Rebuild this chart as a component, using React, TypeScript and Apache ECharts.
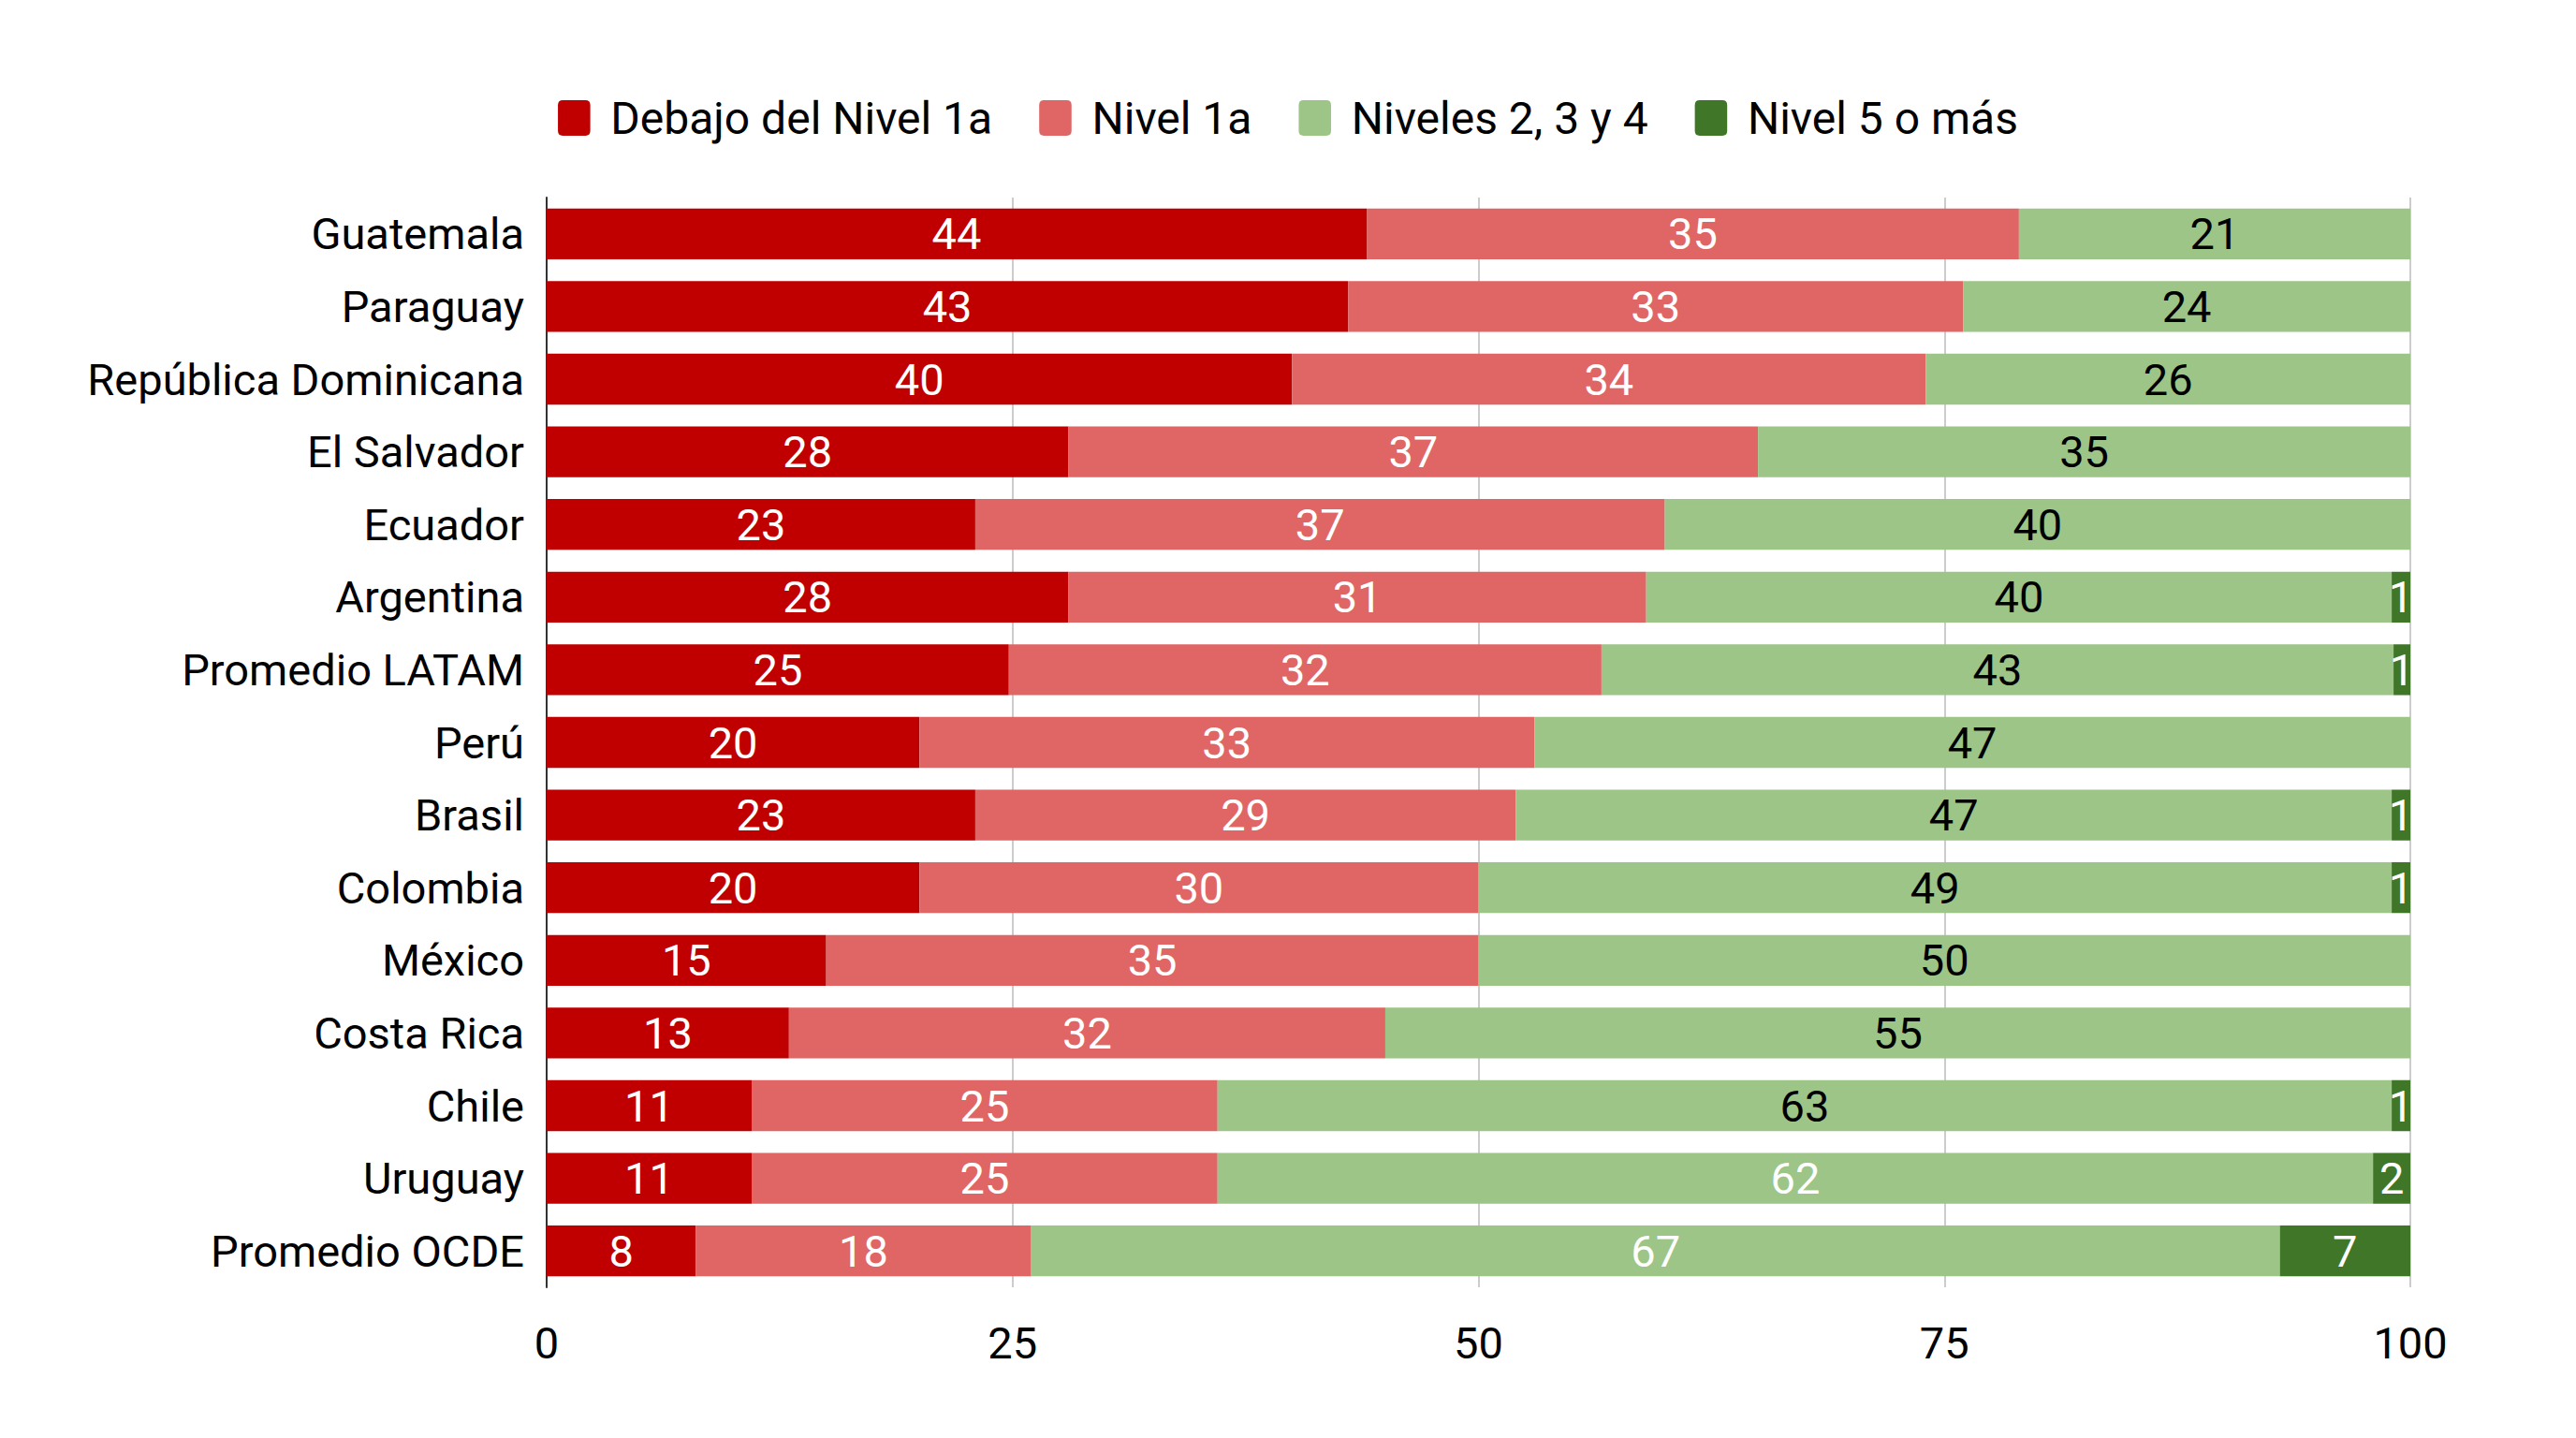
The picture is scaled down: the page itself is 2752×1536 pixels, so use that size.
import { useEffect, useRef } from 'react';
import * as echarts from 'echarts';

// categories, top to bottom
const countries = [
  'Guatemala',
  'Paraguay',
  'República Dominicana',
  'El Salvador',
  'Ecuador',
  'Argentina',
  'Promedio LATAM',
  'Perú',
  'Brasil',
  'Colombia',
  'México',
  'Costa Rica',
  'Chile',
  'Uruguay',
  'Promedio OCDE',
];

const seriesNames = ['Debajo del Nivel 1a', 'Nivel 1a', 'Niveles 2, 3 y 4', 'Nivel 5 o más'];

// labels are shown rounded; LATAM carries decimals so its row adds up to 100
const belowLevel1a = [44, 43, 40, 28, 23, 28, 24.8, 20, 23, 20, 15, 13, 11, 11, 8];
const level1a = [35, 33, 34, 37, 37, 31, 31.8, 33, 29, 30, 35, 32, 25, 25, 18];
const levels234 = [21, 24, 26, 35, 40, 40, 42.5, 47, 47, 49, 50, 55, 63, 62, 67];
const level5plus = [0, 0, 0, 0, 0, 1, 0.9, 0, 1, 1, 0, 0, 1, 2, 7];

const xTicks = [0, 25, 50, 75, 100];

const colors = ['#c00000', '#e06666', '#9cc587', '#3f7628'];

// green segments whose label is drawn in white in the original
const whiteGreenLabels = ['Uruguay', 'Promedio OCDE'];

const FONT = 'Roboto';
const FS = 47;

function App() {
  const chartRef = useRef<HTMLDivElement>(null);

  useEffect(() => {
    document.body.style.margin = '0';
    document.body.style.overflow = 'hidden';
    if (!chartRef.current) return;

    const label = (color: string) => ({
      show: true,
      position: 'inside' as const,
      color,
      fontSize: FS,
      fontFamily: FONT,
      formatter: (p: any) => (p.value ? String(Math.round(p.value)) : ''),
    });

    const seriesData = [belowLevel1a, level1a, levels234, level5plus];
    const labelColors = ['#ffffff', '#ffffff', '#000000', '#ffffff'];

    const series = seriesData.map((values, i) => ({
      name: seriesNames[i],
      type: 'bar' as const,
      stack: 'total',
      barCategoryGap: '30%',
      itemStyle: { color: colors[i] },
      label: label(labelColors[i]),
      data:
        i === 2
          ? values.map((v, j) =>
              whiteGreenLabels.includes(countries[j])
                ? { value: v, label: { color: '#ffffff' } }
                : v,
            )
          : values,
    }));

    const option: echarts.EChartsOption = {
      animation: false,
      backgroundColor: '#ffffff',
      textStyle: { fontFamily: FONT },
      legend: {
        top: 97,
        left: 'center',
        itemWidth: 36,
        itemHeight: 38,
        itemGap: 50,
        icon: 'path://M3,0 H17 Q20,0 20,3 V19 Q20,22 17,22 H3 Q0,22 0,19 V3 Q0,0 3,0 Z',
        textStyle: { fontSize: 48, color: '#000000', fontFamily: FONT, padding: [0, 0, 0, 16] },
        data: seriesNames,
      },
      grid: {
        left: 584,
        right: 177,
        top: 211,
        bottom: 161,
        containLabel: false,
      },
      xAxis: {
        type: 'value',
        min: xTicks[0],
        max: xTicks[xTicks.length - 1],
        interval: 25,
        axisLine: { show: false },
        axisTick: { show: false },
        axisLabel: { fontSize: FS, color: '#000000', margin: 36, fontFamily: FONT },
        splitLine: { lineStyle: { color: '#cccccc', width: 2 } },
      },
      yAxis: {
        type: 'category',
        inverse: true,
        data: countries,
        axisTick: { show: false },
        axisLine: { show: true, lineStyle: { color: '#333333', width: 2 } },
        axisLabel: { fontSize: FS, color: '#000000', margin: 24, fontFamily: FONT },
      },
      series,
    };

    const chart = echarts.init(chartRef.current, undefined, { renderer: 'svg' });
    chart.setOption(option);

    return () => {
      chart.dispose();
    };
  }, []);

  return <div ref={chartRef} style={{ width: '100vw', height: '100vh' }} />;
}

export default App;
